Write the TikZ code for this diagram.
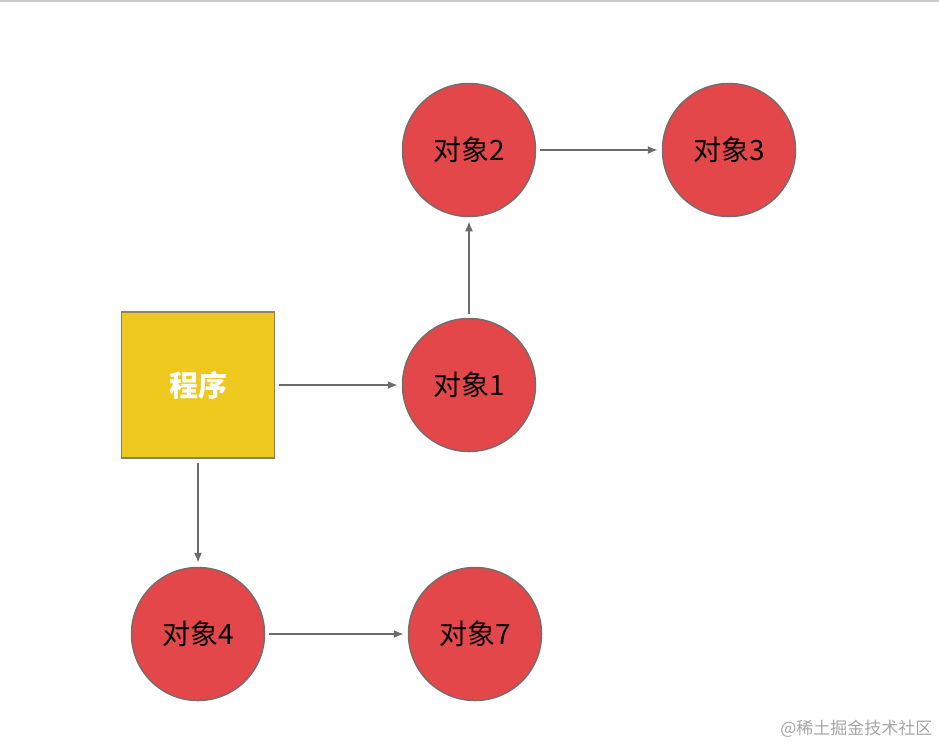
\documentclass[tikz,border=0pt]{standalone}
\usepackage{fontspec}
\newfontfamily\cjk{Noto Sans CJK SC}
\usetikzlibrary{arrows.meta}
\definecolor{objred}{HTML}{E4474A}
\definecolor{objedge}{HTML}{7A6A6A}
\definecolor{progyellow}{HTML}{EFC81E}
\definecolor{progedge}{HTML}{8A8262}
\definecolor{linkgray}{HTML}{6B6B6B}

\begin{document}
\begin{tikzpicture}[x=1pt,y=-1pt,>={Latex[length=10pt,width=8pt]},obj/.style={circle,draw=objedge,line width=1.5pt,fill=objred,minimum size=133pt,inner sep=0pt,font=\cjk\fontsize{28}{30}\selectfont},prog/.style={rectangle,draw=progedge,line width=1.5pt,fill=progyellow,minimum width=153pt,minimum height=146pt,text=white,font=\cjk\bfseries\fontsize{29}{31}\selectfont},link/.style={->,line width=1.6pt,draw=linkgray,shorten <=4pt,shorten >=4pt}]
\useasboundingbox (0,0) rectangle (939,750);
\draw[line width=2pt,draw=black!20] (0,1) -- (939,1);
\node[prog] (prog) at (198,385) {程序};
\node[obj] (o1) at (469,385) {对象1};
\node[obj] (o2) at (469,150) {对象2};
\node[obj] (o3) at (729,150) {对象3};
\node[obj] (o4) at (198,634) {对象4};
\node[obj] (o7) at (475,634) {对象7};
\draw[link] (prog) -- (o1);
\draw[link] (o1) -- (o2);
\draw[link] (o2) -- (o3);
\draw[link] (prog) -- (o4);
\draw[link] (o4) -- (o7);
\node[anchor=east,text=black!35,font=\cjk\fontsize{17}{19}\selectfont] (mark) at (936,729) {@稀土掘金技术社区};
\end{tikzpicture}
\end{document}
